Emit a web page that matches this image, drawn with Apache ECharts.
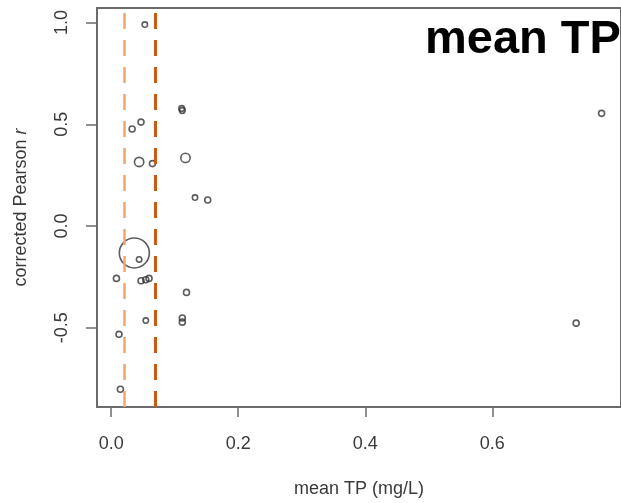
<!DOCTYPE html>
<html>
<head>
<meta charset="utf-8">
<title>mean TP</title>
<script src="https://cdn.jsdelivr.net/npm/echarts@6/dist/echarts.min.js"></script>
<style>
  html, body { margin: 0; padding: 0; background: #fff; }
  #chart { width: 621px; height: 503px; }
</style>
</head>
<body>
<div id="chart"></div>
<script>
// data
const meanTP = [0.053, 0.111, 0.112, 0.033, 0.047, 0.044, 0.065, 0.117, 0.132, 0.152,
  0.0365, 0.044, 0.0083, 0.047, 0.0545, 0.0596, 0.1186, 0.0545, 0.112, 0.112,
  0.0123, 0.0145, 0.772, 0.732];
const pearsonR = [0.99, 0.578, 0.568, 0.477, 0.511, 0.315, 0.307, 0.335, 0.14, 0.128,
  -0.132, -0.164, -0.257, -0.269, -0.264, -0.257, -0.326, -0.464, -0.452, -0.472,
  -0.532, -0.802, 0.554, -0.477];
// relative weight -> circle size
const weights = [0.8, 0.9, 0.9, 1, 1, 2.4, 1, 2.4, 0.8, 1,
  25, 0.8, 1, 1, 1, 1, 1, 0.8, 1, 1,
  1, 1, 1, 1];
const thresholds = [0.023, 0.073];
const xTicks = [0, 0.2, 0.4, 0.6];
const yTicks = [-0.5, 0, 0.5, 1.0];

const font = "'Liberation Sans', Arial, sans-serif";
const axisGray = "#6b6b6b";
const textGray = "#3a3a3a";

const points = meanTP.map((x, i) => [x, pearsonR[i], weights[i]]);

const myChart = echarts.init(document.getElementById("chart"));

const option = {
  animation: false,
  title: {
    text: "mean TP",
    left: 425,
    top: 17,
    padding: 0,
    textStyle: {
      fontFamily: font,
      fontSize: 47,
      fontWeight: "bold",
      color: "#000",
    },
  },
  grid: {
    left: 97,
    top: 8,
    bottom: 93,
    right: -12,
    show: true,
    borderColor: axisGray,
    borderWidth: 2,
    backgroundColor: "transparent",
  },
  xAxis: {
    type: "value",
    min: -0.0223,
    max: 0.8026,
    name: "mean TP (mg/L)",
    nameLocation: "middle",
    nameGap: 73,
    nameTextStyle: { fontFamily: font, fontSize: 18, color: textGray },
    splitLine: { show: false },
    axisLine: { show: false, onZero: false },
    axisTick: {
      show: true,
      inside: false,
      length: 10,
      customValues: xTicks,
      lineStyle: { color: axisGray, width: 1.5 },
    },
    axisLabel: {
      customValues: xTicks,
      margin: 28,
      fontFamily: font,
      fontSize: 18,
      color: textGray,
      formatter: (v) => v.toFixed(1),
    },
  },
  yAxis: {
    type: "value",
    min: -0.889,
    max: 1.0716,
    name: "corrected Pearson {i|r}",
    nameLocation: "middle",
    nameGap: 67,
    nameTextStyle: {
      fontFamily: font,
      fontSize: 18,
      color: textGray,
      rich: {
        i: { fontFamily: font, fontSize: 18, fontStyle: "italic", color: textGray },
      },
    },
    splitLine: { show: false },
    axisLine: { show: false, onZero: false },
    axisTick: {
      show: true,
      inside: false,
      length: 11,
      customValues: yTicks,
      lineStyle: { color: axisGray, width: 1.5 },
    },
    axisLabel: {
      customValues: yTicks,
      rotate: 90,
      margin: 26,
      fontFamily: font,
      fontSize: 18,
      color: textGray,
      formatter: (v) => v.toFixed(1),
    },
  },
  series: [
    {
      type: "scatter",
      data: points,
      symbol: "circle",
      symbolSize: (d) => 6 * Math.sqrt(d[2]),
      itemStyle: {
        color: "transparent",
        borderColor: "#333",
        borderWidth: 1.6,
      },
      markLine: {
        silent: true,
        symbol: "none",
        label: { show: false },
        data: [
          {
            xAxis: thresholds[0],
            lineStyle: { color: "#F4A66C", width: 2.5, type: [16, 11] },
          },
          {
            xAxis: thresholds[1],
            lineStyle: { color: "#CC5A12", width: 3, type: [16, 11] },
          },
        ],
      },
    },
  ],
};

myChart.setOption(option);
window.onresize = function () {
  myChart.resize();
};
</script>
</body>
</html>
